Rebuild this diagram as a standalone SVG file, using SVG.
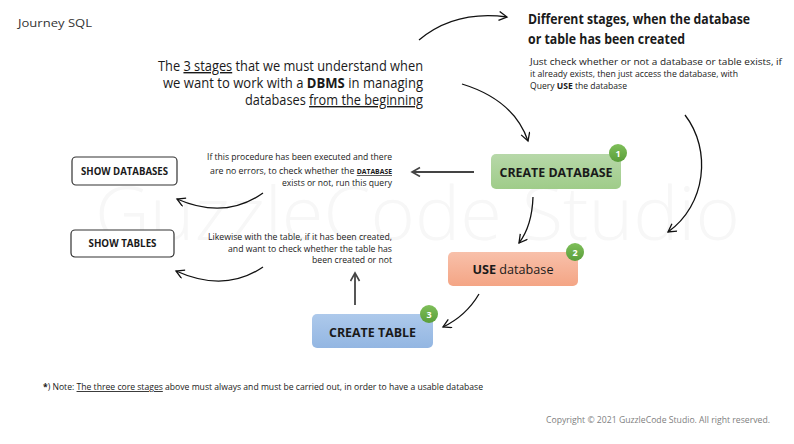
<svg xmlns="http://www.w3.org/2000/svg" width="794" height="444" viewBox="0 0 794 444">
<style>
text{font-family:"Open Sans","Liberation Sans",sans-serif;fill:#1a1a1a}
.b{font-weight:bold}
.u{text-decoration:underline}
.box{stroke:none}
.node-t{font-weight:bold;font-size:13px;text-anchor:middle}
.show{fill:#fff;stroke:#333;stroke-width:1.2}
.show-t{font-weight:bold;font-size:10px;text-anchor:middle}
.badge{fill:url(#gBadge)}
.badge-t{fill:#fff;font-weight:bold;font-size:9px;text-anchor:middle}
.curve{fill:none;stroke:#111;stroke-width:1.3;marker-end:url(#ah)}
.straight{fill:none;stroke:#444;stroke-width:1.8;marker-end:url(#ah2)}
.small{font-size:9px}
.r{text-anchor:end}
</style>
<defs>
<linearGradient id="gGreen" x1="0" y1="0" x2="0" y2="1"><stop offset="0" stop-color="#b7d8a9"/><stop offset="1" stop-color="#9fcc89"/></linearGradient>
<linearGradient id="gOrange" x1="0" y1="0" x2="0" y2="1"><stop offset="0" stop-color="#f8c0aa"/><stop offset="1" stop-color="#f4a585"/></linearGradient>
<linearGradient id="gBlue" x1="0" y1="0" x2="0" y2="1"><stop offset="0" stop-color="#adc9eb"/><stop offset="1" stop-color="#93b6e2"/></linearGradient>
<linearGradient id="gBadge" x1="0" y1="0" x2="0" y2="1"><stop offset="0" stop-color="#7fbf5a"/><stop offset="1" stop-color="#5a9e3a"/></linearGradient>
<marker id="ah" markerUnits="userSpaceOnUse" markerWidth="12" markerHeight="12" refX="9" refY="5" orient="auto"><path d="M1,0.5 L9,5 L1,9.5" fill="none" stroke="#111" stroke-width="1.3"/></marker>
<marker id="ah2" markerUnits="userSpaceOnUse" markerWidth="12" markerHeight="12" refX="9" refY="5" orient="auto"><path d="M1,0.5 L9,5 L1,9.5" fill="none" stroke="#444" stroke-width="1.6"/></marker>
</defs>
<rect width="794" height="444" fill="#fff"/>
<text x="95" y="240" font-size="74" font-weight="300" style="fill:#f7f7f7" textLength="645" lengthAdjust="spacingAndGlyphs">GuzzleCode Studio</text>

<text x="18" y="27" font-size="11.5" textLength="74" lengthAdjust="spacingAndGlyphs" style="fill:#333">Journey SQL</text>

<g id="heading">
<text x="528" y="24" font-size="14" class="b" textLength="222" lengthAdjust="spacingAndGlyphs">Different stages, when the database</text>
<text x="528" y="44" font-size="14" class="b" textLength="157" lengthAdjust="spacingAndGlyphs">or table has been created</text>
<text x="530" y="65" class="small" textLength="252" lengthAdjust="spacingAndGlyphs">Just check whether or not a database or table exists, if</text>
<text x="530" y="77" class="small" textLength="208" lengthAdjust="spacingAndGlyphs">it already exists, then just access the database, with</text>
<text x="530" y="89" class="small" textLength="97" lengthAdjust="spacingAndGlyphs">Query <tspan class="b">USE</tspan> the database</text>
</g>

<g id="intro">
<text x="423" y="71" font-size="14" class="r" textLength="265" lengthAdjust="spacingAndGlyphs">The <tspan class="u">3 stages</tspan> that we must understand when</text>
<text x="423" y="88" font-size="14" class="r" textLength="260" lengthAdjust="spacingAndGlyphs">we want to work with a <tspan class="b">DBMS</tspan> in managing</text>
<text x="423" y="105" font-size="14" class="r" textLength="178" lengthAdjust="spacingAndGlyphs">databases <tspan class="u">from the beginning</tspan></text>
</g>

<g id="note-db">
<text x="392" y="160" class="small r" textLength="185" lengthAdjust="spacingAndGlyphs">If this procedure has been executed and there</text>
<text x="392" y="174" class="small r" textLength="182" lengthAdjust="spacingAndGlyphs">are no errors, to check whether the <tspan class="b u" font-size="7">DATABASE</tspan></text>
<text x="392" y="186" class="small r" textLength="110" lengthAdjust="spacingAndGlyphs">exists or not, run this query</text>
</g>

<g id="note-table">
<text x="392" y="240" class="small r" textLength="184" lengthAdjust="spacingAndGlyphs">Likewise with the table, if it has been created,</text>
<text x="392" y="252" class="small r" textLength="164" lengthAdjust="spacingAndGlyphs">and want to check whether the table has</text>
<text x="392" y="263" class="small r" textLength="80" lengthAdjust="spacingAndGlyphs">been created or not</text>
</g>

<g id="show-databases">
<rect x="72" y="157" width="105" height="28" rx="4" class="show"/>
<text x="124.5" y="175" class="show-t" textLength="87" lengthAdjust="spacingAndGlyphs">SHOW DATABASES</text>
</g>
<g id="show-tables">
<rect x="71" y="230" width="103" height="27" rx="4" class="show"/>
<text x="122.5" y="247" class="show-t" textLength="68" lengthAdjust="spacingAndGlyphs">SHOW TABLES</text>
</g>

<g id="create-database">
<rect x="491" y="154" width="130" height="35" rx="5" fill="url(#gGreen)" class="box"/>
<text x="556" y="177" class="node-t" textLength="113" lengthAdjust="spacingAndGlyphs">CREATE DATABASE</text>
<circle cx="618" cy="153" r="9" class="badge"/>
<text x="618" y="156.5" class="badge-t">1</text>
</g>
<g id="use-database">
<rect x="448" y="252" width="130" height="34" rx="5" fill="url(#gOrange)" class="box"/>
<text x="513" y="274" font-size="13" text-anchor="middle" textLength="81" lengthAdjust="spacingAndGlyphs"><tspan class="b">USE</tspan> database</text>
<circle cx="575" cy="252" r="9" class="badge"/>
<text x="575" y="255.5" class="badge-t">2</text>
</g>
<g id="create-table">
<rect x="312" y="314" width="121" height="34" rx="5" fill="url(#gBlue)" class="box"/>
<text x="372.5" y="337" class="node-t" textLength="87" lengthAdjust="spacingAndGlyphs">CREATE TABLE</text>
<circle cx="429" cy="314" r="9" class="badge"/>
<text x="429" y="317.5" class="badge-t">3</text>
</g>

<g id="connectors">
<path class="curve" d="M419,40 Q455,10 507,17"/>
<path class="curve" d="M462,84 Q514,100 528,141"/>
<path class="curve" d="M685,115 C712,150 706,205 668,232"/>
<path class="curve" d="M533,197 Q532,226 519,243"/>
<path class="curve" d="M479,294 Q466,316 443,327"/>
<path class="curve" d="M263,193 Q225,220 177,199"/>
<path class="curve" d="M263,267 Q225,293 176,271"/>
<path class="straight" d="M474,172 L412,172"/>
<path class="straight" d="M355,305 L355,273"/>
</g>

<text x="43" y="390" font-size="8.5" textLength="440" lengthAdjust="spacingAndGlyphs"><tspan class="b">*</tspan>) Note: <tspan class="u">The three core stages</tspan> above must always and must be carried out, in order to have a usable database</text>
<text x="546" y="423" font-size="8.5" style="fill:#808080" textLength="224" lengthAdjust="spacingAndGlyphs">Copyright © 2021 GuzzleCode Studio. All right reserved.</text>
</svg>
